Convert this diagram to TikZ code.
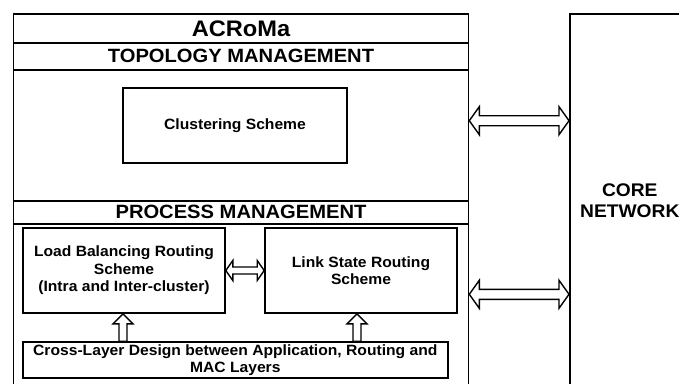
\documentclass[tikz,border=0pt]{standalone}
\usepackage{fontspec}
\setmainfont{Liberation Sans}[FakeStretch=1.05]
\usetikzlibrary{calc}
\tikzset{
  box/.style={draw, line width=1.6pt, fill=white, inner sep=0pt, align=center,
    font=\bfseries\fontsize{14.9}{17.5}\selectfont},
  band/.style={box, font=\bfseries\fontsize{19.2}{21}\selectfont},
  titleband/.style={box, font=\bfseries\fontsize{22.5}{24}\selectfont},
  corebox/.style={box, font=\bfseries\fontsize{18.3}{21}\selectfont},
  fat/.style={draw, line width=1.4pt, fill=white, line join=miter},
}
% hollow double-headed arrow between two points on one horizontal line:
% #1 left end, #2 right end, #3 head length, #4 head half height, #5 shaft half height
\newcommand\dblharrow[5]{%
  \path[fat] let \p1=#1, \p2=#2 in
    (\x1,\y1) -- (\x1+#3,\y1+#4) -- (\x1+#3,\y1+#5) -- (\x2-#3,\y1+#5)
    -- (\x2-#3,\y1+#4) -- (\x2,\y1) -- (\x2-#3,\y1-#4) -- (\x2-#3,\y1-#5)
    -- (\x1+#3,\y1-#5) -- (\x1+#3,\y1-#4) -- cycle;}
% hollow upward arrow: #1 foot of the shaft, #2 tip
\newcommand\fatuparrow[2]{%
  \path[fat] let \p1=#1, \p2=#2 in
    (\x1-4pt,\y1) -- (\x1-4pt,\y2-10pt) -- (\x1-10pt,\y2-10pt) -- (\x2,\y2)
    -- (\x1+10pt,\y2-10pt) -- (\x1+4pt,\y2-10pt) -- (\x1+4pt,\y1) -- cycle;}
\begin{document}
\begin{tikzpicture}[x=1pt, y=-1pt]
  \useasboundingbox (0,0) rectangle (679,383);
  \clip (0,0) rectangle (679,383);

  % ACRoMa framework
  \node[box, anchor=north west, minimum width=455pt, minimum height=384pt] (outer) at (12.7,13) {};
  \node[titleband, anchor=north west, minimum width=455pt, minimum height=29pt] (title) at (12.7,13) {ACRoMa};
  \node[band, anchor=north west, minimum width=455pt, minimum height=27pt] (topo) at (12.7,42) {TOPOLOGY MANAGEMENT};
  \node[box, minimum width=224pt, minimum height=75pt] (clust) at (235,125.5) {Clustering Scheme};
  \node[band, anchor=north west, minimum width=455pt, minimum height=23pt] (proc) at (12.7,200) {PROCESS MANAGEMENT};
  \node[box, minimum width=202pt, minimum height=85pt] (load) at (124,270.5)
    {Load Balancing Routing\\Scheme\\(Intra and Inter-cluster)};
  \node[box, minimum width=192pt, minimum height=85pt] (link) at (361,270.5)
    {Link State Routing\\Scheme};
  \node[box, minimum width=425pt, minimum height=36pt] (cross) at (235.3,360)
    {Cross-Layer Design between Application, Routing and\\MAC Layers};

  % core network
  \node[corebox, anchor=north west, minimum width=120pt, minimum height=373pt] (core) at (569,13)
    {CORE\\NETWORK};

  % connectors
  \coordinate (t1) at (outer.east |- 0,120.7);
  \coordinate (t2) at (core.west |- 0,120.7);
  \coordinate (b1) at (outer.east |- 0,294.3);
  \coordinate (b2) at (core.west |- 0,294.3);
  \dblharrow{(t1)}{(t2)}{10pt}{14pt}{5pt}
  \dblharrow{(b1)}{(b2)}{10pt}{14pt}{5pt}
  \dblharrow{(load.east)}{(link.west)}{7pt}{10pt}{3.5pt}

  \coordinate (u1) at (cross.north -| 123,0);
  \coordinate (v1) at (load.south -| 123,0);
  \coordinate (u2) at (cross.north -| 357,0);
  \coordinate (v2) at (link.south -| 357,0);
  \fatuparrow{(u1)}{(v1)}
  \fatuparrow{(u2)}{(v2)}
\end{tikzpicture}
\end{document}
